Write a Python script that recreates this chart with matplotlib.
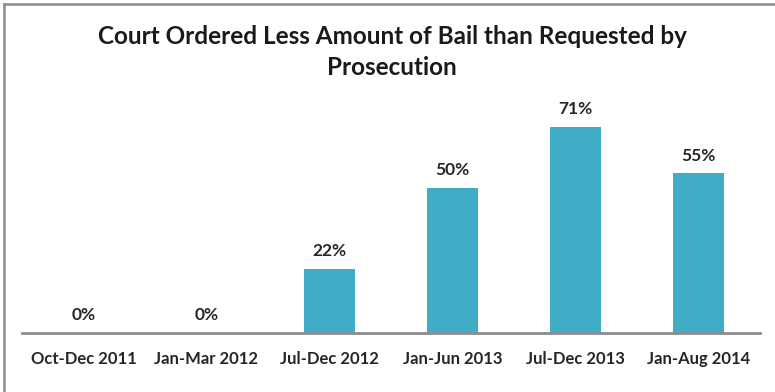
import matplotlib
matplotlib.use("Agg")
import matplotlib.pyplot as plt
from matplotlib.lines import Line2D

categories = ["Oct-Dec 2011", "Jan-Mar 2012", "Jul-Dec 2012", "Jan-Jun 2013", "Jul-Dec 2013", "Jan-Aug 2014"]
values = [0, 0, 22, 50, 71, 55]
labels = ["0%", "0%", "22%", "50%", "71%", "55%"]
title = "Court Ordered Less Amount of Bail than Requested by\nProsecution"

plt.rcParams['font.family'] = ['Lato', 'DejaVu Sans']
W, H = 775, 392
fig = plt.figure(figsize=(W/100, H/100), dpi=100)
ax = fig.add_axes([22/W, (H-333)/H, (760-22)/W, 232/H])
x = list(range(len(categories)))
ax.bar(x, values, width=0.41, color="#41ACC5")
ax.set_xlim(-0.5, len(categories)-0.5)
ax.set_ylim(0, 80)
for xi, v, lab in zip(x, values, labels):
    ax.annotate(lab, (xi, v), xytext=(0, 7), textcoords="offset points",
                ha="center", va="bottom", fontsize=12.5, fontweight="bold", color="#262626")
ax.set_xticks(x)
ax.set_xticklabels(categories, fontsize=12, fontweight="bold", color="#262626")
ax.tick_params(axis="x", length=0, pad=13)
ax.set_yticks([])
for s in ["top", "right", "left"]:
    ax.spines[s].set_visible(False)
ax.spines["bottom"].set_color("#8c8c8c")
ax.spines["bottom"].set_linewidth(2)

fig.text(392/W, 1 - 52/H, title, ha="center", va="center", fontsize=17.5,
         fontweight="bold", color="#1a1a1a", linespacing=1.4)

fig.add_artist(Line2D([4/W, 4/W], [0, 1 - 4/H], color="#8c8c8c", lw=1.8, transform=fig.transFigure))
fig.add_artist(Line2D([4/W, 1], [1 - 4/H, 1 - 4/H], color="#8c8c8c", lw=1.8, transform=fig.transFigure))

fig.savefig("out.png", dpi=100)
